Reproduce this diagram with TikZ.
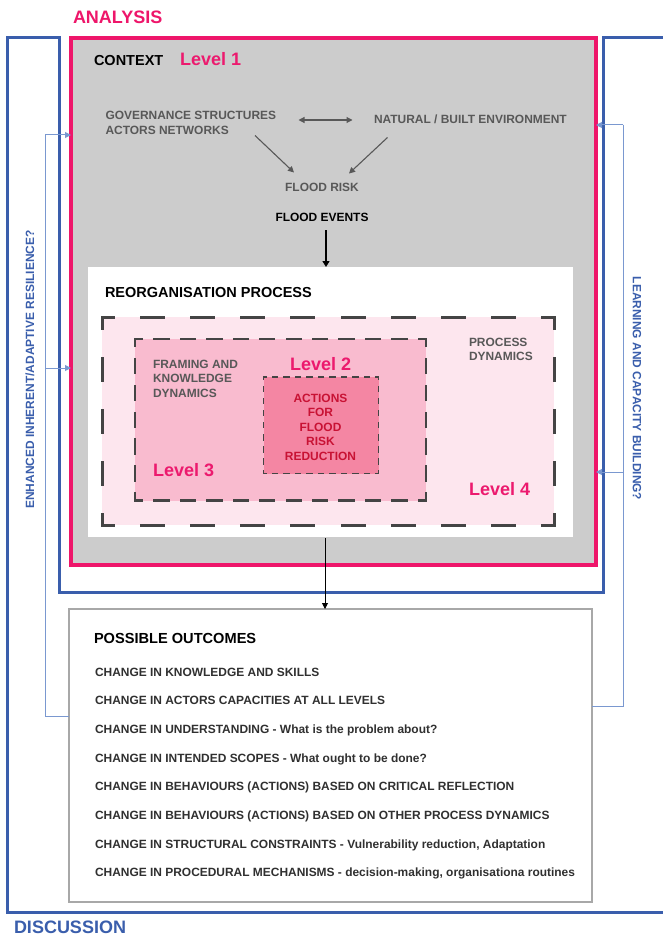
\documentclass[tikz,border=0pt]{standalone}
\usepackage{fontspec}
\setmainfont{Liberation Sans}
\usetikzlibrary{arrows.meta}

\definecolor{frameblue}{RGB}{58,94,172}
\definecolor{linkblue}{RGB}{122,152,208}
\definecolor{hotpink}{RGB}{238,22,106}
\definecolor{levelpink}{RGB}{236,26,110}
\definecolor{ctxgray}{RGB}{204,204,204}
\definecolor{lvfour}{RGB}{253,230,238}
\definecolor{lvthree}{RGB}{249,187,207}
\definecolor{lvtwo}{RGB}{244,134,163}
\definecolor{dashgray}{RGB}{68,68,68}
\definecolor{labelgray}{RGB}{88,88,88}
\definecolor{outgray}{RGB}{168,168,168}
\definecolor{actionred}{RGB}{200,18,52}
\definecolor{bodytext}{RGB}{48,48,48}

\newcommand{\fsmall}{\fontsize{11.95}{14}\selectfont\bfseries}
\newcommand{\fhead}{\fontsize{14.5}{17}\selectfont\bfseries}
\newcommand{\fbig}{\fontsize{18}{21}\selectfont\bfseries}

\tikzset{
  box/.style={anchor=north west, inner sep=0pt, outer sep=0pt},
  txt/.style={inner sep=0pt, outer sep=0pt, anchor=base west},
  ctxt/.style={inner sep=0pt, outer sep=0pt, anchor=base},
  small/.style={txt, font=\fsmall, text=labelgray},
  head/.style={txt, font=\fhead, text=black},
  lvl/.style={txt, font=\fbig, text=levelpink},
  outline/.style={txt, font=\fsmall, text=bodytext},
  % bracket-style dashed frames: half dash at every corner
  fourh/.style={draw=dashgray, line width=3pt, line cap=rect, dash pattern=on 22pt off 28.22pt, dash phase=11pt},
  fourv/.style={draw=dashgray, line width=3pt, line cap=rect, dash pattern=on 22pt off 30pt, dash phase=11pt},
  threeh/.style={draw=dashgray, line width=2.4pt, line cap=rect, dash pattern=on 14pt off 12.45pt, dash phase=7pt},
  threev/.style={draw=dashgray, line width=2.4pt, line cap=rect, dash pattern=on 14pt off 12.9pt, dash phase=7pt},
  twoh/.style={draw=dashgray, line width=1.5pt, line cap=rect, dash pattern=on 5pt off 6.5pt, dash phase=2.5pt},
  twov/.style={draw=dashgray, line width=1.5pt, line cap=rect, dash pattern=on 5pt off 7.06pt, dash phase=2.5pt},
  flow/.style={draw=black, line width=1.4pt, -{Triangle[length=6pt,width=7pt]}},
  flowthin/.style={draw=black, line width=0.9pt, -{Triangle[length=6pt,width=6pt]}},
  ctxarrow/.style={draw=labelgray, line width=1.1pt, -{Triangle[length=6pt,width=6pt]}},
  feedback/.style={draw=linkblue, line width=1pt},
  feedtip/.style={feedback, -{Triangle[length=6pt,width=6pt]}, draw=linkblue, fill=frameblue},
}

\begin{document}
\begin{tikzpicture}[x=1pt,y=-1pt]
\useasboundingbox (0,0) rectangle (663,936);
\fill[white] (0,0) rectangle (663,936);
\clip (0,0) rectangle (663,936);

% discussion frame with the analysis frame cut into it
\coordinate (fa) at (680,38);
\coordinate (fb) at (603,38);
\coordinate (fc) at (603,592);
\coordinate (fd) at (59,592);
\coordinate (fe) at (59,38);
\coordinate (ff) at (7,38);
\coordinate (fg) at (7,912);
\coordinate (fh) at (680,912);
\draw[frameblue, line width=3pt, line join=miter] (fa) -- (fb) -- (fc) -- (fd) -- (fe) -- (ff) -- (fg) -- (fh);

% context (level 1)
\node[box, fill=ctxgray, draw=hotpink, line width=3.5pt, minimum width=525pt, minimum height=527pt] (context) at (71,38) {};

% reorganisation process
\node[box, fill=white, minimum width=485pt, minimum height=270pt] (reorg) at (88,267) {};
\node[box, fill=lvfour, minimum width=452pt, minimum height=208pt] (lfour) at (102,317) {};
\node[box, fill=lvthree, minimum width=291pt, minimum height=161.5pt] (lthree) at (135,339) {};
\node[box, fill=lvtwo, minimum width=115pt, minimum height=96.5pt] (ltwo) at (263.5,377) {};

\draw[fourh] (lfour.north west) -- (lfour.north east);
\draw[fourh] (lfour.south west) -- (lfour.south east);
\draw[fourv] (lfour.north west) -- (lfour.south west);
\draw[fourv] (lfour.north east) -- (lfour.south east);
\draw[threeh] (lthree.north west) -- (lthree.north east);
\draw[threeh] (lthree.south west) -- (lthree.south east);
\draw[threev] (lthree.north west) -- (lthree.south west);
\draw[threev] (lthree.north east) -- (lthree.south east);
\draw[twoh] (ltwo.north west) -- (ltwo.north east);
\draw[twoh] (ltwo.south west) -- (ltwo.south east);
\draw[twov] (ltwo.north west) -- (ltwo.south west);
\draw[twov] (ltwo.north east) -- (ltwo.south east);

% outcomes
\node[box, fill=white, draw=outgray, line width=2pt, minimum width=523pt, minimum height=293pt] (outc) at (69,609) {};

% titles
\node[txt, font=\fbig, text=hotpink] (analysis) at (73,24) {ANALYSIS};
\node[txt, font=\fbig, text=frameblue] (discussion) at (14,933) {DISCUSSION};

% context content
\node[head] (ctxtitle) at (94,65.7) {CONTEXT};
\node[lvl] (lone) at (180,66) {Level 1};
\node[small] (gov) at (105.5,119.2) {GOVERNANCE STRUCTURES};
\node[small] (actors) at (105.5,134.2) {ACTORS NETWORKS};
\node[small] (natural) at (374,123.7) {NATURAL / BUILT ENVIRONMENT};
\node[ctxt, font=\fsmall, text=labelgray] (risk) at (322,191.7) {FLOOD RISK};
\node[ctxt, font=\fsmall, text=black] (events) at (322,221.7) {FLOOD EVENTS};

\coordinate (dl) at (298.5,120);
\coordinate (dr) at (352.5,120);
\draw[ctxarrow, {Triangle[length=6pt,width=6pt]}-{Triangle[length=6pt,width=6pt]}] (dl) -- (dr);
\coordinate (govfoot) at (255,135.5);
\coordinate (govtip) at (294,172.5);
\coordinate (natfoot) at (387.5,137.5);
\coordinate (nattip) at (349,173.5);
\draw[ctxarrow] (govfoot) -- (govtip);
\draw[ctxarrow] (natfoot) -- (nattip);

\coordinate (evx) at (326,230);
\draw[flow] (evx) -- (evx |- reorg.north);

% reorganisation content
\node[head] (reorgtitle) at (105,297.5) {REORGANISATION PROCESS};
\node[small] (pd1) at (469,346.2) {PROCESS};
\node[small] (pd2) at (469,360.7) {DYNAMICS};
\node[small] (fk1) at (153,368.3) {FRAMING AND};
\node[small] (fk2) at (153,382.6) {KNOWLEDGE};
\node[small] (fk3) at (153,397) {DYNAMICS};
\node[lvl] (ltwolab) at (290,370) {Level 2};
\node[lvl] (lthreelab) at (153,476.7) {Level 3};
\node[lvl] (lfourlab) at (469,495) {Level 4};
\node[ctxt, font=\fsmall, text=actionred] (act1) at (320.5,402.5) {ACTIONS};
\node[ctxt, font=\fsmall, text=actionred] (act2) at (320.5,416.9) {FOR};
\node[ctxt, font=\fsmall, text=actionred] (act3) at (320.5,431.2) {FLOOD};
\node[ctxt, font=\fsmall, text=actionred] (act4) at (320.5,445.9) {RISK};
\node[ctxt, font=\fsmall, text=actionred] (act5) at (320.5,460) {REDUCTION};

\coordinate (rex) at (325,538);
\draw[flowthin] (rex) -- (rex |- outc.north);

% outcomes content
\node[head, text=black, font=\fontsize{14.6}{17}\selectfont\bfseries] (outtitle) at (94,643) {POSSIBLE OUTCOMES};
\node[outline] (o1) at (95,676) {CHANGE IN KNOWLEDGE AND SKILLS};
\node[outline] (o2) at (95,704.7) {CHANGE IN ACTORS CAPACITIES AT ALL LEVELS};
\node[outline] (o3) at (95,733.3) {CHANGE IN UNDERSTANDING - What is the problem about?};
\node[outline] (o4) at (95,762) {CHANGE IN INTENDED SCOPES - What ought to be done?};
\node[outline] (o5) at (95,790.7) {CHANGE IN BEHAVIOURS (ACTIONS) BASED ON CRITICAL REFLECTION};
\node[outline] (o6) at (95,819.4) {CHANGE IN BEHAVIOURS (ACTIONS) BASED ON OTHER PROCESS DYNAMICS};
\node[outline] (o7) at (95,848) {CHANGE IN STRUCTURAL CONSTRAINTS - Vulnerability reduction, Adaptation};
\node[outline] (o8) at (95,876.8) {CHANGE IN PROCEDURAL MECHANISMS - decision-making, organisationa routines};

% feedback loops
\coordinate (lbot) at (45,716);
\coordinate (lmid) at (45,368);
\coordinate (ltop) at (45,135);
\draw[feedback] (outc.west |- lbot) -- (lbot) -- (ltop);
\draw[feedtip] (ltop) -- (ltop -| context.west);
\draw[feedtip] (lmid) -- (lmid -| context.west);

\coordinate (rbot) at (623,706);
\coordinate (rmid) at (623,472);
\coordinate (rtop) at (623,125);
\draw[feedback] (outc.east |- rbot) -- (rbot) -- (rtop);
\draw[feedtip] (rtop) -- (rtop -| context.east);
\draw[feedtip] (rmid) -- (rmid -| context.east);

\node[inner sep=0pt, font=\fsmall, text=frameblue, rotate=90] (resil) at (30,369.5) {ENHANCED INHERENT/ADAPTIVE RESILIENCE?};
\node[inner sep=0pt, font=\fsmall, text=frameblue, rotate=-90] (learn) at (637,388.5) {LEARNING AND CAPACITY BUILDING?};
\end{tikzpicture}
\end{document}
